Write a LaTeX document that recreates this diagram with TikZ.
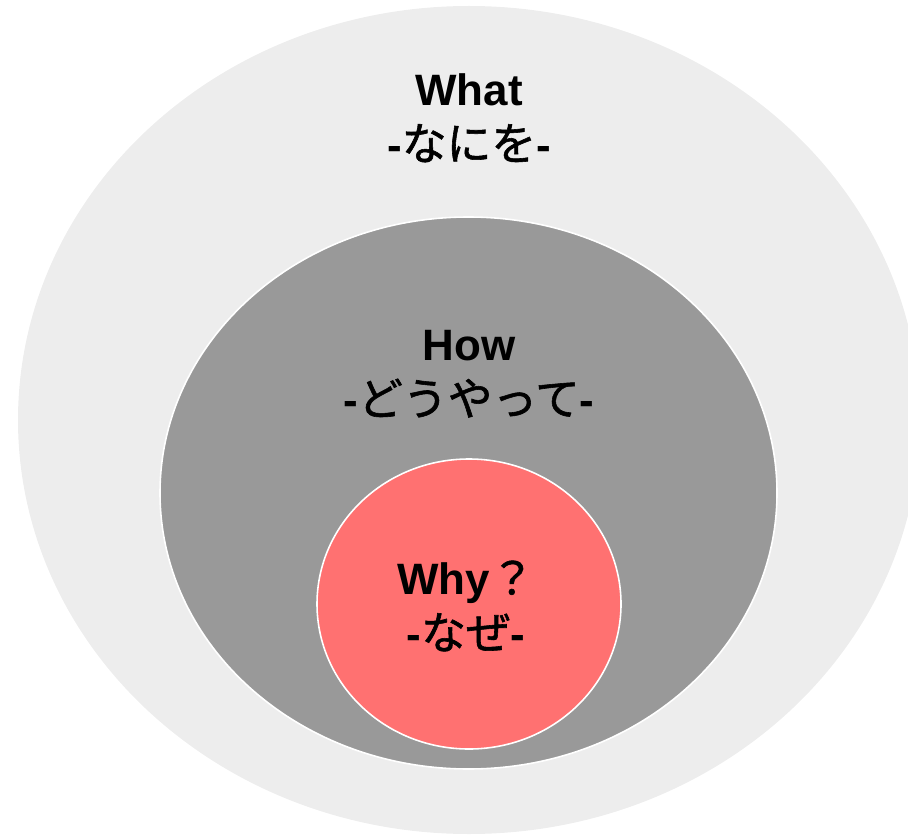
\documentclass[tikz,border=0pt]{standalone}
\usepackage{fontspec}
\setmainfont{Liberation Sans}
\newfontfamily\jpfont{Noto Sans CJK JP}[FakeBold=1.3]
\newcommand{\jp}[1]{{\jpfont\mdseries\fontsize{25.5}{31}\selectfont #1}}

\definecolor{whatgray}{HTML}{EDEDED}
\definecolor{howgray}{HTML}{999999}
\definecolor{whyred}{HTML}{FF7171}

\tikzset{
  ring/.style={draw=white, line width=0.9pt},
  label/.style={align=center, font=\bfseries\fontsize{25}{31}\selectfont, inner sep=0pt}
}

\begin{document}
\begin{tikzpicture}[x=0.02cm, y=-0.02cm]
			\useasboundingbox (0,0) rectangle (908,834);
			\clip (0,0) rectangle (908,834);
			% three nested ellipses
			\fill[whatgray] (469,420) ellipse [x radius=451, y radius=414];
			\filldraw[howgray, ring] (468.5,493) ellipse [x radius=308.5, y radius=276];
			\filldraw[whyred, ring] (469,604) ellipse [x radius=152, y radius=145];
			% labels
			\node[label] (what) at (469,118) {What\\-\jp{なにを}-};
			\node[label] (how) at (469,374) {How\\-\jp{どうやって}-};
			\node[label] (why) at (466,606) {Why\jp{？}\\-\jp{なぜ}-};
\end{tikzpicture}
\end{document}
